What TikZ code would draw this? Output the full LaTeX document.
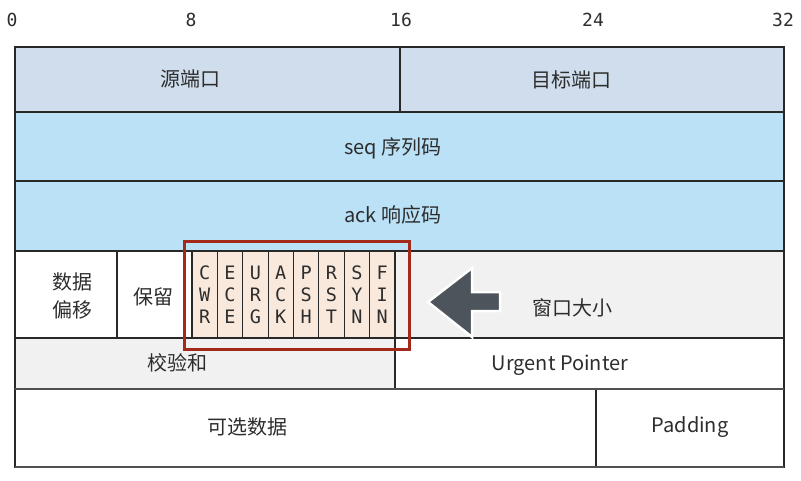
\documentclass[tikz,border=0pt]{standalone}
\usepackage{fontspec}
\newfontfamily\cjk{Noto Sans CJK SC}
\newfontfamily\mono{DejaVu Sans Mono}
\definecolor{rowA}{RGB}{207,221,237}
\definecolor{rowB}{RGB}{186,225,246}
\definecolor{grayc}{RGB}{241,241,241}
\definecolor{peach}{RGB}{249,233,221}
\definecolor{redc}{RGB}{163,42,26}
\definecolor{arrowc}{RGB}{77,84,92}
\definecolor{linec}{RGB}{40,40,40}
\definecolor{lineg}{RGB}{80,80,80}
\definecolor{txt}{RGB}{45,45,45}
\begin{document}
\begin{tikzpicture}[x=1pt,y=-1pt,
  cellbox/.style={draw=linec, line width=1.1pt, inner sep=0pt, outer sep=0pt, anchor=north west},
  flagbox/.style={cellbox, fill=peach, minimum width=25.375pt, minimum height=87pt,
    font=\mono\fontsize{18.5}{22}\selectfont, text=txt, align=center},
  label/.style={font=\cjk\fontsize{20}{28}\selectfont, text=txt, inner sep=0pt, align=center},
  ruler/.style={font=\mono\fontsize{18}{18}\selectfont, text=txt, inner sep=0pt}]
\useasboundingbox (0,0) rectangle (801,480);
% ruler
\node[ruler] (r0) at (12,20) {0};
\node[ruler] (r8) at (191,20) {8};
\node[ruler] (r16) at (401,20) {16};
\node[ruler] (r24) at (593,20) {24};
\node[ruler] (r32) at (783,20) {32};
% row 1
\node[cellbox, fill=rowA, minimum width=385pt, minimum height=65pt] (src) at (15,47) {};
\node[cellbox, fill=rowA, minimum width=384pt, minimum height=65pt] (dst) at (400,47) {};
% rows 2,3
\node[cellbox, fill=rowB, minimum width=769pt, minimum height=69pt] (seq) at (15,112) {};
\node[cellbox, fill=rowB, minimum width=769pt, minimum height=70pt] (ack) at (15,181) {};
% row 4
\node[cellbox, fill=white, minimum width=102pt, minimum height=87pt] (off) at (15,251) {};
\node[cellbox, fill=white, minimum width=75pt, minimum height=87pt] (res) at (117,251) {};
\node[flagbox] (f1) at (192,251) {C\\W\\R};
\node[flagbox] (f2) at (217.375,251) {E\\C\\E};
\node[flagbox] (f3) at (242.75,251) {U\\R\\G};
\node[flagbox] (f4) at (268.125,251) {A\\C\\K};
\node[flagbox] (f5) at (293.5,251) {P\\S\\H};
\node[flagbox] (f6) at (318.875,251) {R\\S\\T};
\node[flagbox] (f7) at (344.25,251) {S\\Y\\N};
\node[flagbox] (f8) at (369.625,251) {F\\I\\N};
\node[cellbox, fill=grayc, minimum width=389pt, minimum height=87pt] (win) at (395,251) {};
% row 5
\node[cellbox, fill=grayc, minimum width=380pt, minimum height=51pt] (chk) at (15,338) {};
\node[cellbox, fill=white, minimum width=389pt, minimum height=51pt] (urg) at (395,338) {};
% row 6
\node[cellbox, fill=white, minimum width=581pt, minimum height=78pt] (opt) at (15,389) {};
\node[cellbox, fill=white, minimum width=188pt, minimum height=78pt] (pad) at (596,389) {};
\draw[lineg, line width=2pt] (chk.south west) -- (urg.south east);
\draw[lineg, line width=2pt] (opt.south west) -- (pad.south east);
% labels
\node[label] (srcl) at (190,79) {源端口};
\node[label] (dstl) at (571,80) {目标端口};
\node[label] (seql) at (393,148) {seq 序列码};
\node[label] (ackl) at (393,215) {ack 响应码};
\node[label] (offl) at (72,296) {数据\\偏移};
\node[label] (resl) at (153,297) {保留};
\node[label] (winl) at (572,308) {窗口大小};
\node[label] (chkl) at (177,363) {校验和};
\node[label] (urgl) at (560,365) {Urgent Pointer};
\node[label] (optl) at (247,427) {可选数据};
\node[label] (padl) at (690,427) {Padding};
% highlight box around flags
\node[draw=redc, line width=3pt, inner sep=0pt, minimum width=225pt, minimum height=108pt, anchor=north west] (hl) at (183,240) {};
% arrow
\filldraw[fill=arrowc, draw=white, line width=2.5pt, line join=miter]
  (428,302) -- (472,268) -- (472,292) -- (500,292) -- (500,311) -- (472,311) -- (472,337) -- cycle;
\end{tikzpicture}
\end{document}
